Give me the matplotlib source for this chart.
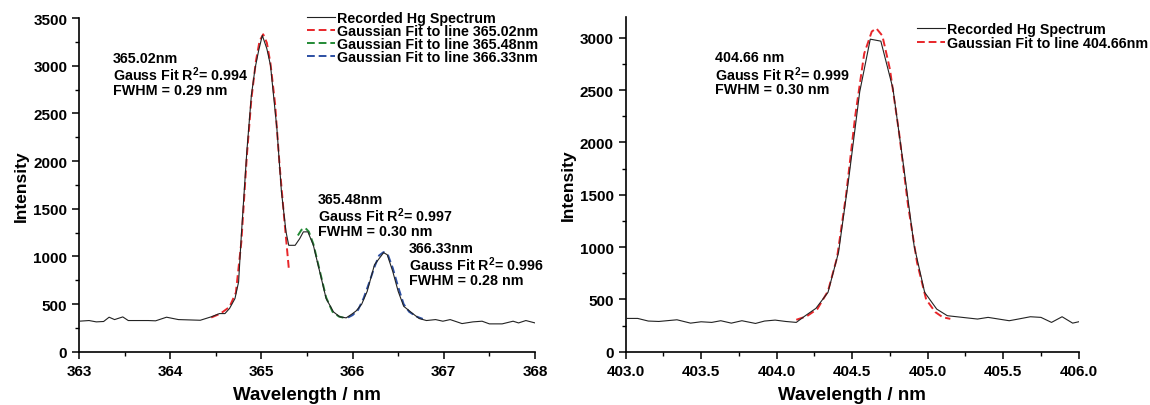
import matplotlib
matplotlib.use("Agg")
import matplotlib.pyplot as plt
from matplotlib.ticker import MultipleLocator

plt.rcParams['font.family'] = ['Liberation Sans', 'DejaVu Sans']
plt.rcParams['mathtext.fontset'] = 'custom'
plt.rcParams['mathtext.rm'] = 'Liberation Sans'
plt.rcParams['mathtext.it'] = 'Liberation Sans'
plt.rcParams['mathtext.bf'] = 'Liberation Sans:bold'

# ---------------- Left panel data (365 nm triplet) ----------------
wl_left = [363.00, 363.11, 363.19, 363.27, 363.33, 363.39, 363.48, 363.54, 363.76, 363.84,
           363.96, 364.09, 364.33, 364.39, 364.45, 364.54, 364.60, 364.65, 364.71, 364.75,
           364.78, 364.84, 364.89, 364.93, 364.97, 365.01, 365.06, 365.10, 365.17, 365.22,
           365.27, 365.30, 365.37, 365.42, 365.46, 365.51, 365.57, 365.64, 365.71, 365.79,
           365.86, 365.93, 366.00, 366.04, 366.10, 366.16, 366.24, 366.34, 366.38, 366.44,
           366.50, 366.56, 366.65, 366.73, 366.81, 366.91, 366.99, 367.07, 367.20, 367.32,
           367.42, 367.50, 367.64, 367.76, 367.82, 367.90, 368.00]
int_left = [321, 328, 314, 318, 363, 338, 366, 328, 328, 325,
            363, 338, 331, 349, 367, 401, 401, 454, 558, 733,
            1222, 2096, 2689, 2969, 3160, 3318, 3178, 3003, 2340, 1677,
            1258, 1117, 1117, 1187, 1258, 1258, 1117, 838, 558, 419,
            367, 356, 401, 430, 500, 634, 913, 1040, 1018, 844,
            634, 478, 408, 349, 328, 338, 321, 338, 296, 314,
            321, 293, 293, 321, 303, 328, 303]

fit1_wl = [364.45, 364.55, 364.65, 364.72, 364.78, 364.84, 364.89, 364.94, 364.98, 365.02,
           365.06, 365.10, 365.15, 365.20, 365.25, 365.30]
fit1_int = [360, 400, 470, 620, 1150, 2050, 2650, 3050, 3260, 3330,
            3240, 3020, 2600, 1950, 1400, 880]

fit2_wl = [365.40, 365.44, 365.48, 365.52, 365.57, 365.64, 365.71, 365.78, 365.85, 365.90]
fit2_int = [1220, 1280, 1300, 1260, 1130, 850, 570, 420, 370, 358]

fit3_wl = [365.95, 366.00, 366.06, 366.12, 366.18, 366.24, 366.29, 366.34, 366.39, 366.44,
           366.50, 366.56, 366.62, 366.70, 366.77]
fit3_int = [360, 385, 440, 560, 720, 890, 1010, 1046, 1010, 880,
            680, 500, 420, 370, 345]

# ---------------- Right panel data (404.66 nm) ----------------
wl_right = [403.00, 403.08, 403.15, 403.22, 403.34, 403.43, 403.50, 403.57, 403.63, 403.70,
            403.77, 403.86, 403.92, 403.99, 404.06, 404.13, 404.19, 404.26, 404.34, 404.41,
            404.48, 404.55, 404.62, 404.69, 404.77, 404.84, 404.91, 404.98, 405.06, 405.13,
            405.23, 405.33, 405.40, 405.47, 405.54, 405.60, 405.68, 405.75, 405.82, 405.89,
            405.96, 406.00]
int_right = [319, 319, 294, 290, 306, 274, 287, 281, 297, 274,
             297, 271, 294, 303, 290, 281, 345, 415, 568, 951,
             1685, 2483, 2987, 2968, 2515, 1781, 1015, 568, 408, 345,
             329, 313, 329, 313, 297, 313, 335, 329, 281, 335,
             274, 287]

fit4_wl = [404.13, 404.20, 404.27, 404.34, 404.40, 404.46, 404.52, 404.58, 404.63, 404.66,
           404.70, 404.75, 404.81, 404.87, 404.93, 404.99, 405.05, 405.10, 405.15]
fit4_int = [306, 340, 410, 580, 900, 1500, 2250, 2850, 3060, 3090,
            3020, 2700, 2100, 1400, 850, 500, 380, 330, 315]

RED = '#e8262a'
GREEN = '#238a35'
BLUE = '#2c4fa3'
BLACK = '#222222'

fig = plt.figure(figsize=(11.5, 4.06), dpi=100)
axL = fig.add_axes([0.0687, 0.131, 0.3965, 0.822])
axR = fig.add_axes([0.544, 0.131, 0.394, 0.825])

dash = (0, (4, 2))
for ax in (axL, axR):
    for s in ('top', 'right'):
        ax.spines[s].set_visible(False)
    for s in ('left', 'bottom'):
        ax.spines[s].set_linewidth(1.2)
    ax.tick_params(which='major', direction='out', length=5, width=1.1, labelsize=11)
    ax.tick_params(which='minor', direction='out', length=3, width=1.0)
    ax.set_xlabel('Wavelength / nm', fontsize=13.5, fontweight='bold', labelpad=6)
    ax.set_ylabel('Intensity', fontsize=12.5, fontweight='bold', labelpad=3)

# Left panel
axL.plot(fit1_wl, fit1_int, color=RED, lw=1.4, ls=dash, label='Gaussian Fit to line 365.02nm', zorder=2)
axL.plot(fit2_wl, fit2_int, color=GREEN, lw=1.4, ls=dash, label='Gaussian Fit to line 365.48nm', zorder=2)
axL.plot(fit3_wl, fit3_int, color=BLUE, lw=1.4, ls=dash, label='Gaussian Fit to line 366.33nm', zorder=2)
axL.plot(wl_left, int_left, color=BLACK, lw=0.8, label='Recorded Hg Spectrum', zorder=3)
xtL = [363, 364, 365, 366, 367, 368]
ytL = [0, 500, 1000, 1500, 2000, 2500, 3000, 3500]
axL.set_xticks(xtL)
axL.set_xticklabels([str(v) for v in xtL], fontweight='bold')
axL.set_yticks(ytL)
axL.set_yticklabels([str(v) for v in ytL], fontweight='bold')
axL.xaxis.set_minor_locator(MultipleLocator(0.5))
axL.yaxis.set_minor_locator(MultipleLocator(250))
axL.set_xlim(363, 368)
axL.set_ylim(0, 3500)

leg_kw = dict(loc='upper left', frameon=False, handlelength=1.95, handletextpad=0.15,
              borderpad=0.2, prop={'size': 10.3, 'weight': 'bold'})
h, l = axL.get_legend_handles_labels()
order = [3, 0, 1, 2]
fig.legend([h[i] for i in order], [l[i] for i in order],
           bbox_to_anchor=(0.258, 0.996), labelspacing=-0.05, **leg_kw)

txt_kw = dict(fontsize=10.3, fontweight='bold', va='top', ha='left', linespacing=0.98)
axL.text(363.37, 3160, '365.02nm\nGauss Fit R$^{\\mathbf{2}}$= 0.994\nFWHM = 0.29 nm', **txt_kw)
axL.text(365.62, 1680, '365.48nm\nGauss Fit R$^{\\mathbf{2}}$= 0.997\nFWHM = 0.30 nm', **txt_kw)
axL.text(366.62, 1160, '366.33nm\nGauss Fit R$^{\\mathbf{2}}$= 0.996\nFWHM = 0.28 nm', **txt_kw)

# Right panel
axR.plot(fit4_wl, fit4_int, color=RED, lw=1.4, ls=dash, label='Gaussian Fit to line 404.66nm', zorder=2)
axR.plot(wl_right, int_right, color=BLACK, lw=0.8, label='Recorded Hg Spectrum', zorder=3)
xtR = [403.0, 403.5, 404.0, 404.5, 405.0, 405.5, 406.0]
axR.set_xticks(xtR)
axR.set_xticklabels([f'{v:.1f}' for v in xtR], fontweight='bold')
ytR = [0, 500, 1000, 1500, 2000, 2500, 3000]
axR.set_yticks(ytR)
axR.set_yticklabels([str(v) for v in ytR], fontweight='bold')
axR.xaxis.set_minor_locator(MultipleLocator(0.25))
axR.yaxis.set_minor_locator(MultipleLocator(250))
axR.set_xlim(403, 406)
axR.set_ylim(0, 3200)

h, l = axR.get_legend_handles_labels()
fig.legend([h[1], h[0]], [l[1], l[0]],
           bbox_to_anchor=(0.7887, 0.967), labelspacing=-0.02, **leg_kw)

axR.text(403.59, 2880, '404.66 nm\nGauss Fit R$^{\\mathbf{2}}$= 0.999\nFWHM = 0.30 nm', **txt_kw)

fig.savefig('out.png', dpi=100)
